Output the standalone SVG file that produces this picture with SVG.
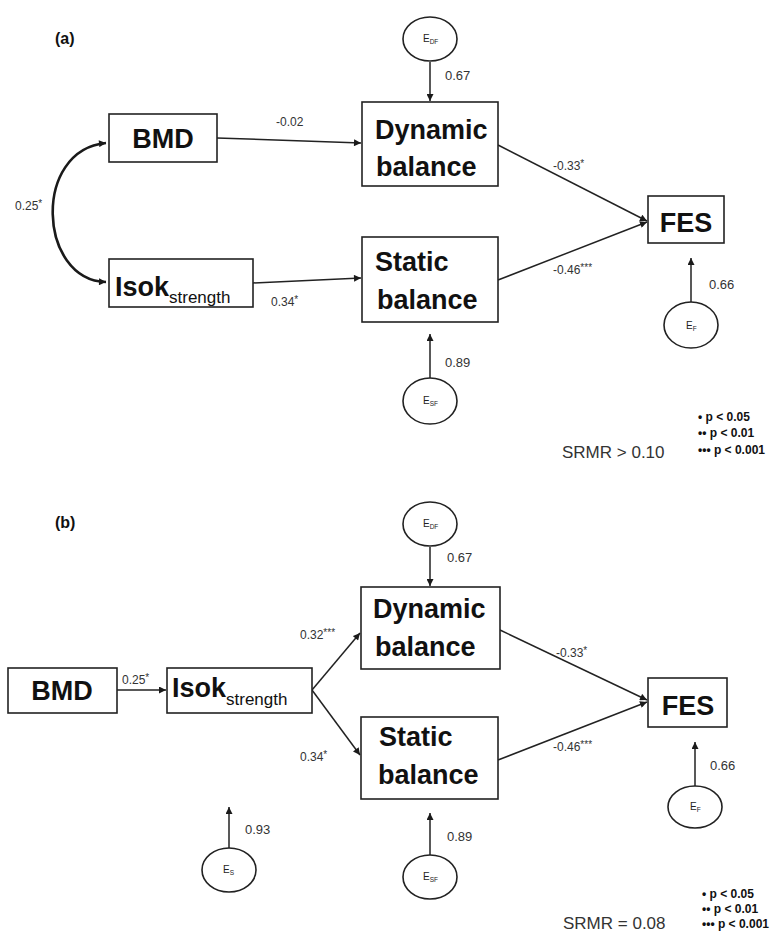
<svg xmlns="http://www.w3.org/2000/svg" width="779" height="934" viewBox="0 0 779 934">
<defs>
<marker id="ah" viewBox="0 0 10 10" refX="10" refY="5" markerWidth="8" markerHeight="7" markerUnits="userSpaceOnUse" orient="auto-start-reverse"><path d="M0,0 L10,5 L0,10 z" fill="#1a1a1a"/></marker>
<style>
.box{fill:#fff;stroke:#222;stroke-width:1.6}
.ell{fill:#fff;stroke:#222;stroke-width:1.6}
.big{font-family:"Liberation Sans",Arial,sans-serif;font-weight:bold;font-size:27px;fill:#111}
.sub{font-family:"Liberation Sans",Arial,sans-serif;font-weight:normal;font-size:17px;fill:#111}
.lbl{font-family:"Liberation Sans",Arial,sans-serif;font-size:12px;fill:#333}
.lbl2{font-family:"Liberation Sans",Arial,sans-serif;font-size:13px;fill:#333}
.st{font-size:10px}
.e{font-family:"Liberation Sans",Arial,sans-serif;font-size:10px;fill:#222}
.es{font-size:6.5px}
.pl{font-family:"Liberation Sans",Arial,sans-serif;font-weight:bold;font-size:16px;fill:#111}
.srmr{font-family:"Liberation Sans",Arial,sans-serif;font-size:17px;fill:#333}
.leg{font-family:"Liberation Sans",Arial,sans-serif;font-weight:bold;font-size:12px;fill:#111}
.con{fill:none;stroke:#222;stroke-width:1.5;marker-end:url(#ah)}
</style>
</defs>
<rect width="779" height="934" fill="#fff"/>

<text class="pl" x="55" y="44">(a)</text>
<text class="pl" x="55" y="528">(b)</text>

<!-- Panel (a) connectors -->
<g id="connectors-a">
<path class="con" d="M430,62 L430,101"/>
<path class="con" d="M217,138 L361,143"/>
<path class="con" d="M253,283 L361,278"/>
<path class="con" d="M498,145 L647,221"/>
<path class="con" d="M498,280 L647,222"/>
<path class="con" d="M691,302 L691,258"/>
<path class="con" d="M430,378 L430,334"/>
<path d="M106,143 C32,150 38,280 106,282" fill="none" stroke="#1a1a1a" stroke-width="2.6" marker-start="url(#ah)" marker-end="url(#ah)"/>
<text class="lbl" x="276" y="126">-0.02</text>
<text class="lbl" x="15" y="210">0.25<tspan class="st" dy="-3">*</tspan></text>
<text class="lbl" x="271" y="306">0.34<tspan class="st" dy="-3">*</tspan></text>
<text class="lbl" x="553" y="170">-0.33<tspan class="st" dy="-3">*</tspan></text>
<text class="lbl" x="553" y="274">-0.46<tspan class="st" dy="-3">***</tspan></text>
<text class="lbl2" x="445" y="80">0.67</text>
<text class="lbl2" x="709" y="289">0.66</text>
<text class="lbl2" x="445" y="367">0.89</text>
</g>

<g id="a-EDF"><ellipse class="ell" cx="430" cy="39" rx="27" ry="22"/><text class="e" x="423" y="42">E<tspan class="es" dy="2">DF</tspan></text></g>
<g id="a-BMD"><rect class="box" x="109" y="114" width="108" height="48"/><text class="big" x="163" y="148" text-anchor="middle" font-size="28">BMD</text></g>
<g id="a-Isok"><rect class="box" x="109" y="259" width="144" height="48"/><text class="big" x="115" y="296" font-size="30">Isok<tspan class="sub" dy="7">strength</tspan></text></g>
<g id="a-Dynamic"><rect class="box" x="362" y="102" width="136" height="84"/><text class="big" x="375" y="139">Dynamic</text><text class="big" x="376" y="176">balance</text></g>
<g id="a-Static"><rect class="box" x="362" y="237" width="136" height="85"/><text class="big" x="375" y="271">Static</text><text class="big" x="377" y="309">balance</text></g>
<g id="a-FES"><rect class="box" x="648" y="196" width="76" height="47"/><text class="big" x="686" y="232" text-anchor="middle" font-size="30">FES</text></g>
<g id="a-EF"><ellipse class="ell" cx="691" cy="325" rx="27" ry="23"/><text class="e" x="686" y="329">E<tspan class="es" dy="2">F</tspan></text></g>
<g id="a-ESF"><ellipse class="ell" cx="430" cy="401" rx="27" ry="23"/><text class="e" x="423" y="404">E<tspan class="es" dy="2">SF</tspan></text></g>

<g id="a-legend">
<text class="srmr" x="562" y="458">SRMR &gt; 0.10</text>
<text class="leg" x="698" y="421">• p &lt; 0.05</text>
<text class="leg" x="698" y="437">•• p &lt; 0.01</text>
<text class="leg" x="698" y="454">••• p &lt; 0.001</text>
</g>

<!-- Panel (b) connectors -->
<g id="connectors-b">
<path class="con" d="M430,547 L430,586"/>
<path class="con" d="M117,690 L166,690"/>
<path class="con" d="M312,690 L360,633"/>
<path class="con" d="M312,690 L360,755"/>
<path class="con" d="M500,630 L647,700"/>
<path class="con" d="M498,760 L647,702"/>
<path class="con" d="M695,787 L695,742"/>
<path class="con" d="M229,848 L229,807"/>
<path class="con" d="M430,855 L430,813"/>
<text class="lbl" x="122" y="684">0.25<tspan class="st" dy="-3">*</tspan></text>
<text class="lbl" x="300" y="639">0.32<tspan class="st" dy="-3">***</tspan></text>
<text class="lbl" x="300" y="761">0.34<tspan class="st" dy="-3">*</tspan></text>
<text class="lbl" x="556" y="657">-0.33<tspan class="st" dy="-3">*</tspan></text>
<text class="lbl" x="553" y="751">-0.46<tspan class="st" dy="-3">***</tspan></text>
<text class="lbl2" x="447" y="562">0.67</text>
<text class="lbl2" x="710" y="770">0.66</text>
<text class="lbl2" x="245" y="834">0.93</text>
<text class="lbl2" x="447" y="841">0.89</text>
</g>

<g id="b-EDF"><ellipse class="ell" cx="430" cy="524" rx="27" ry="22"/><text class="e" x="423" y="527">E<tspan class="es" dy="2">DF</tspan></text></g>
<g id="b-BMD"><rect class="box" x="8" y="668" width="109" height="45"/><text class="big" x="62" y="700" text-anchor="middle" font-size="28">BMD</text></g>
<g id="b-Isok"><rect class="box" x="167" y="668" width="145" height="45"/><text class="big" x="172" y="697" font-size="30">Isok<tspan class="sub" dy="8">strength</tspan></text></g>
<g id="b-Dynamic"><rect class="box" x="361" y="587" width="139" height="82"/><text class="big" x="373" y="618">Dynamic</text><text class="big" x="375" y="656">balance</text></g>
<g id="b-Static"><rect class="box" x="361" y="717" width="137" height="82"/><text class="big" x="379" y="746">Static</text><text class="big" x="378" y="784">balance</text></g>
<g id="b-FES"><rect class="box" x="648" y="678" width="79" height="49"/><text class="big" x="688" y="715" text-anchor="middle" font-size="30">FES</text></g>
<g id="b-EF"><ellipse class="ell" cx="695" cy="807" rx="27" ry="21"/><text class="e" x="690" y="810">E<tspan class="es" dy="2">F</tspan></text></g>
<g id="b-ES"><ellipse class="ell" cx="229" cy="870" rx="27" ry="22"/><text class="e" x="223" y="873">E<tspan class="es" dy="2">S</tspan></text></g>
<g id="b-ESF"><ellipse class="ell" cx="430" cy="877" rx="27" ry="22"/><text class="e" x="423" y="880">E<tspan class="es" dy="2">SF</tspan></text></g>

<g id="b-legend">
<text class="srmr" x="563" y="929">SRMR = 0.08</text>
<text class="leg" x="702" y="898">• p &lt; 0.05</text>
<text class="leg" x="702" y="913">•• p &lt; 0.01</text>
<text class="leg" x="702" y="928">••• p &lt; 0.001</text>
</g>
</svg>
